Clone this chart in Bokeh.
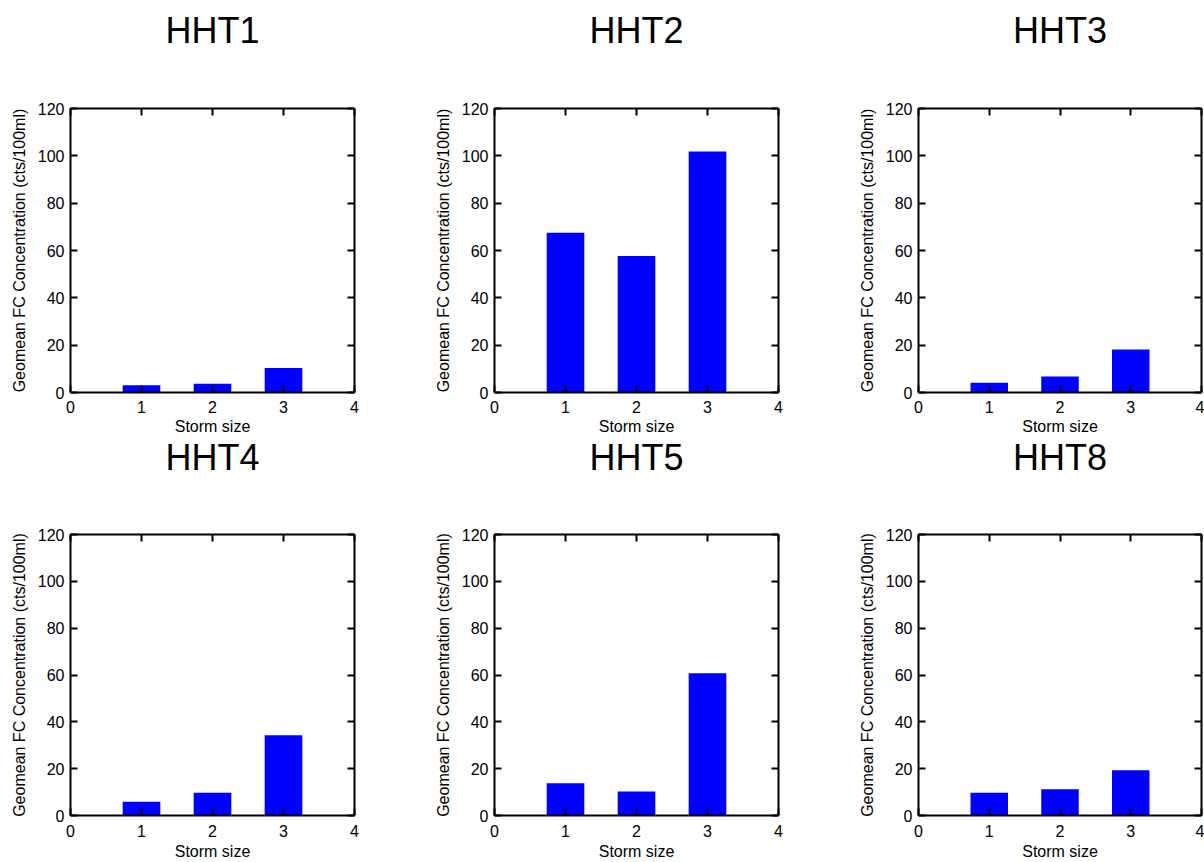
from bokeh.plotting import figure
from bokeh.layouts import column, row
from bokeh.models import LinearAxis, FixedTicker, Range1d
from bokeh.core.properties import value
from bokeh.embed import file_html
from bokeh.resources import INLINE

# ---- data ----
storm_sizes = [1, 2, 3]
x_ticks = [0, 1, 2, 3, 4]
y_ticks = [0, 20, 40, 60, 80, 100, 120]
titles = ["HHT1", "HHT2", "HHT3", "HHT4", "HHT5", "HHT8"]
hht1 = [3.1, 3.7, 10.3]
hht2 = [67.5, 57.7, 101.8]
hht3 = [4.1, 6.8, 18.2]
hht4 = [5.9, 9.7, 34.3]
hht5 = [13.8, 10.2, 60.7]
hht8 = [9.7, 11.2, 19.3]
series = [hht1, hht2, hht3, hht4, hht5, hht8]

FONT = "Liberation Sans"
FS = "16px"
LEFT = 70


def style_axis(ax, ticks, show_labels):
    ax.ticker = FixedTicker(ticks=ticks)
    ax.axis_line_width = 2
    ax.axis_line_color = "black"
    ax.major_tick_line_width = 2
    ax.major_tick_line_color = "black"
    ax.major_tick_in = 7
    ax.major_tick_out = 0
    ax.minor_tick_line_color = None
    if show_labels:
        ax.major_label_text_font = FONT
        ax.major_label_text_font_size = FS
        ax.major_label_text_color = "black"
        ax.axis_label_text_font = FONT
        ax.axis_label_text_font_size = FS
        ax.axis_label_text_font_style = "normal"
        ax.axis_label_text_color = "black"
    else:
        ax.major_label_text_color = None
        ax.major_label_text_font_size = "1px"
        ax.major_label_standoff = 0


def title_strip(title, width, right_border, height, mid):
    t = figure(width=width, height=height, title=None,
               x_range=Range1d(0, 4), y_range=Range1d(0, height),
               output_backend="svg", toolbar_location=None,
               x_axis_location=None, y_axis_location=None,
               min_border_left=LEFT, min_border_right=right_border,
               min_border_top=0, min_border_bottom=0)
    t.outline_line_color = None
    t.xgrid.visible = False
    t.ygrid.visible = False
    t.text(x=[2], y=[mid], text=[title], text_align="center",
           text_baseline="middle", text_font=value(FONT),
           text_font_size="36px", text_color="black")
    return t


def make(values, width, right_border, height, top_border, bottom_border,
         tick_standoff, label_standoff):
    p = figure(width=width, height=height, title=None,
               x_range=Range1d(0, 4), y_range=Range1d(0, 120),
               output_backend="svg", toolbar_location=None,
               min_border_left=LEFT, min_border_right=right_border,
               min_border_top=top_border, min_border_bottom=bottom_border,
               x_axis_label="Storm size",
               y_axis_label="Geomean FC Concentration (cts/100ml)")
    p.outline_line_color = None
    p.xgrid.visible = False
    p.ygrid.visible = False

    style_axis(p.xaxis[0], x_ticks, True)
    style_axis(p.yaxis[0], y_ticks, True)
    p.xaxis[0].major_label_standoff = tick_standoff
    p.xaxis[0].axis_label_standoff = label_standoff
    p.yaxis[0].major_label_standoff = 6
    p.yaxis[0].axis_label_standoff = 7

    top_ax = LinearAxis()
    style_axis(top_ax, x_ticks, False)
    p.add_layout(top_ax, "above")
    right_ax = LinearAxis()
    style_axis(right_ax, y_ticks, False)
    p.add_layout(right_ax, "right")

    p.vbar(x=storm_sizes, top=values, width=0.53, bottom=0,
           fill_color="#0000ff", line_color=None)
    return p


col_widths = [424, 424, 356]
right_borders = [70, 70, 3]

top_titles = [title_strip(titles[i], col_widths[i], right_borders[i], 50, 20) for i in range(3)]
top_plots = [make(series[i], col_widths[i], right_borders[i], 387, 58, 45, 8, 2)
             for i in range(3)]
bot_titles = [title_strip(titles[i + 3], col_widths[i], right_borders[i], 43, 23) for i in range(3)]
bot_plots = [make(series[i + 3], col_widths[i], right_borders[i], 382, 54, 45, 9, 3)
             for i in range(3)]

layout = column(row(*top_titles, spacing=0), row(*top_plots, spacing=0),
                row(*bot_titles, spacing=0), row(*bot_plots, spacing=0), spacing=0)

open("out.html", "w").write(file_html(layout, INLINE))
